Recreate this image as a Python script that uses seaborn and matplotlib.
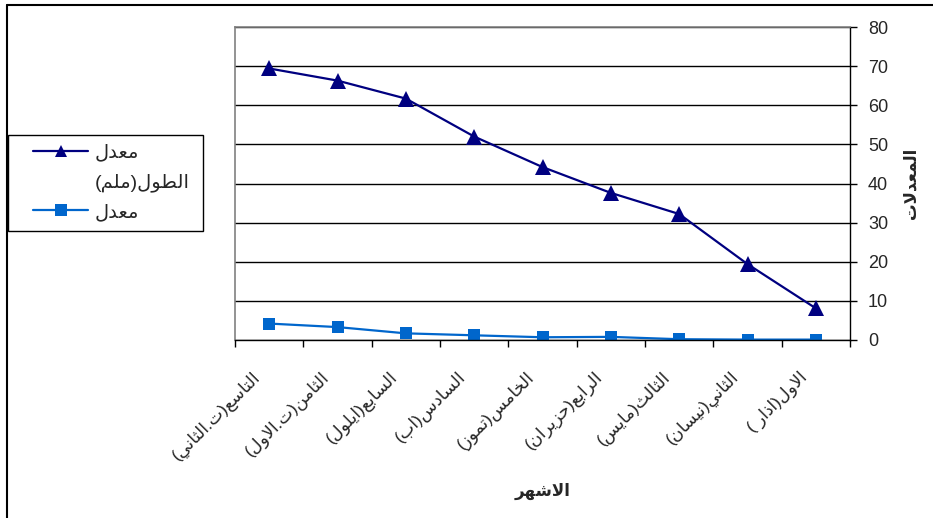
import pandas as pd
import seaborn as sns
import matplotlib.pyplot as plt
from matplotlib.lines import Line2D
from matplotlib.patches import Rectangle
from matplotlib.transforms import ScaledTranslation

# months, left to right as in the chart (right-to-left order)
months = ['التاسع(ت.الثاني)', 'الثامن(ت.الاول)', 'السابع(ايلول)', 'السادس(اب)',
          'الخامس(تموز)', 'الرابع(حزيران)', 'الثالث(مايس)', 'الثاني(نيسان)',
          'الاول(اذار )']
length_mean = [69.4, 66.3, 61.7, 52.0, 44.2, 37.6, 32.2, 19.4, 8.1]
second_mean = [4.2, 3.3, 1.7, 1.2, 0.7, 0.8, 0.2, 0.1, 0.1]
series_names = ['معدل الطول(ملم)', 'معدل']
y_ticks = [0, 10, 20, 30, 40, 50, 60, 70, 80]
x_title = 'الاشهر'
y_title = 'المعدلات'

# minimal arabic shaping: contextual forms + reversed (visual) order
FORMS = {
    'ا': (0xFE8D, 0xFE8E), 'د': (0xFEA9, 0xFEAA), 'ذ': (0xFEAB, 0xFEAC),
    'ر': (0xFEAD, 0xFEAE), 'ز': (0xFEAF, 0xFEB0), 'و': (0xFEED, 0xFEEE),
    'LA': (0xFEFB, 0xFEFC),
    'ب': (0xFE8F, 0xFE90, 0xFE91, 0xFE92), 'ت': (0xFE95, 0xFE96, 0xFE97, 0xFE98),
    'ث': (0xFE99, 0xFE9A, 0xFE9B, 0xFE9C), 'ح': (0xFEA1, 0xFEA2, 0xFEA3, 0xFEA4),
    'خ': (0xFEA5, 0xFEA6, 0xFEA7, 0xFEA8), 'س': (0xFEB1, 0xFEB2, 0xFEB3, 0xFEB4),
    'ش': (0xFEB5, 0xFEB6, 0xFEB7, 0xFEB8), 'ط': (0xFEC1, 0xFEC2, 0xFEC3, 0xFEC4),
    'ع': (0xFEC9, 0xFECA, 0xFECB, 0xFECC), 'ل': (0xFEDD, 0xFEDE, 0xFEDF, 0xFEE0),
    'م': (0xFEE1, 0xFEE2, 0xFEE3, 0xFEE4), 'ن': (0xFEE5, 0xFEE6, 0xFEE7, 0xFEE8),
    'ه': (0xFEE9, 0xFEEA, 0xFEEB, 0xFEEC), 'ي': (0xFEF1, 0xFEF2, 0xFEF3, 0xFEF4),
}
MIRROR = {'(': ')', ')': '('}


def shape_line(text):
    tokens = []
    i = 0
    while i < len(text):
        if text[i] == 'ل' and i + 1 < len(text) and text[i + 1] == 'ا':
            tokens.append('LA')
            i += 2
        else:
            tokens.append(text[i])
            i += 1
    out = []
    for k, t in enumerate(tokens):
        if t not in FORMS:
            out.append(MIRROR.get(t, t))
            continue
        prev = tokens[k - 1] if k > 0 else None
        nxt = tokens[k + 1] if k + 1 < len(tokens) else None
        join_prev = prev in FORMS and len(FORMS[prev]) == 4
        join_next = len(FORMS[t]) == 4 and nxt in FORMS
        idx = {(False, False): 0, (True, False): 1,
               (False, True): 2, (True, True): 3}[(join_prev, join_next)]
        out.append(chr(FORMS[t][idx]))
    return ''.join(reversed(out))


def ar(text):
    return '\n'.join(shape_line(line) for line in text.split('\n'))


sns.set_style('white')
plt.rcParams['font.family'] = ['Liberation Sans', 'DejaVu Sans']

labels = [ar(m) for m in months]
names = [ar(s) for s in series_names]
df = pd.DataFrame({
    'month': labels * 2,
    'value': length_mean + second_mean,
    'series': [names[0]] * len(labels) + [names[1]] * len(labels),
})

fig = plt.figure(figsize=(9.33, 5.18), dpi=100)
ax = fig.add_axes([235 / 933, 1 - 340 / 518, 615 / 933, 313 / 518])

sns.lineplot(data=df, x='month', y='value', hue='series', style='series',
             hue_order=names, style_order=names,
             palette={names[0]: '#000080', names[1]: '#0066cc'},
             markers={names[0]: '^', names[1]: 's'}, dashes=False,
             linewidth=1.6, markersize=9, markeredgewidth=0, ax=ax)
ax.lines[0].set_markersize(11.5)

handles, _ = ax.get_legend_handles_labels()
ax.get_legend().remove()

ax.set_xlim(-0.5, len(months) - 0.5)
ax.set_ylim(0, 80)
ax.set_yticks(y_ticks)
ax.yaxis.tick_right()
ax.yaxis.set_label_position('right')
ax.grid(axis='y', color='black', linewidth=1)
ax.set_axisbelow(True)

ax.set_xticks(range(len(months)), labels, rotation=45, ha='right', va='center',
              rotation_mode='anchor', fontsize=12.5)
ax.set_xticks([k - 0.5 for k in range(len(months) + 1)], minor=True)
ax.tick_params(axis='x', which='major', length=0, pad=25)
ax.tick_params(axis='x', which='minor', length=5, width=1, color='black',
               direction='out', bottom=True)
ax.tick_params(axis='y', length=5, width=1, color='black', direction='out',
               pad=8, labelsize=13, right=True)
shift = ScaledTranslation(-11 / 100, 0, fig.dpi_scale_trans)
for lbl in ax.get_xticklabels():
    lbl.set_transform(lbl.get_transform() + shift)

for side in ['left', 'top']:
    ax.spines[side].set_color('#808080')
    ax.spines[side].set_linewidth(1.2)
for side in ['right', 'bottom']:
    ax.spines[side].set_color('black')
    ax.spines[side].set_linewidth(1)

ax.set_xlabel(ar(x_title), fontsize=12, fontweight='bold')
ax.xaxis.set_label_coords(0.5, -0.455)
ax.set_ylabel(ar(y_title), fontsize=12, fontweight='bold', rotation=90, labelpad=11)

# legend: the first name wraps onto a second line under its entry
first_word, rest = ar(series_names[0].split(' ')[0]), ar(series_names[0].split(' ', 1)[1])
blank = Line2D([], [], linestyle='none', marker=None)
leg = fig.legend([handles[0], blank, handles[1]], [first_word, rest, names[1]],
                 loc='upper left', bbox_to_anchor=(33 / 933, 1 - 144 / 518),
                 fontsize=14, frameon=False, handlelength=2.85,
                 handletextpad=0.3, borderpad=0, borderaxespad=0,
                 labelspacing=0.6)
fig.add_artist(Rectangle((8 / 933, 1 - 231 / 518), 195 / 933, 96 / 518,
                         transform=fig.transFigure, fill=False,
                         edgecolor='black', linewidth=1))

# outer chart border (top and left)
fig.add_artist(Line2D([7 / 933, 1], [1 - 5 / 518, 1 - 5 / 518], color='black', lw=1.5))
fig.add_artist(Line2D([7 / 933, 7 / 933], [0, 1 - 5 / 518], color='black', lw=1.5))

fig.savefig('out.png', dpi=100)
